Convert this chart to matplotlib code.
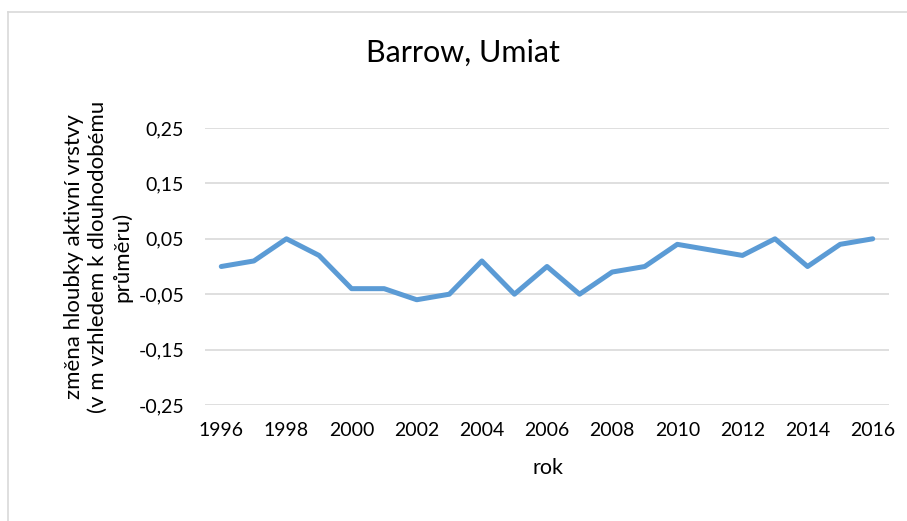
import matplotlib.pyplot as plt
from matplotlib.lines import Line2D
from matplotlib.ticker import FuncFormatter

# yearly change of active layer depth relative to long-term mean (m)
years = list(range(1996, 2017))
change = [0.00, 0.01, 0.05, 0.02, -0.04, -0.04, -0.06, -0.05, 0.01, -0.05, 0.00,
          -0.05, -0.01, 0.00, 0.04, 0.03, 0.02, 0.05, 0.00, 0.04, 0.05]
y_ticks = [-0.25, -0.15, -0.05, 0.05, 0.15, 0.25]
x_ticks = list(range(1996, 2017, 2))

plt.rcParams['font.family'] = ['Lato', 'DejaVu Sans']

fig = plt.figure(figsize=(9.07, 5.21), dpi=100)
ax = fig.add_axes([205 / 907, 1 - 405 / 521, (889 - 205) / 907, (405 - 128) / 521])

ax.plot(years, change, color='#5B9BD5', linewidth=3.6, solid_capstyle='round',
        solid_joinstyle='round', zorder=3)

ax.set_xlim(years[0] - 0.5, years[-1] + 0.5)
ax.set_ylim(-0.25, 0.25)
ax.set_yticks(y_ticks)
ax.set_xticks(x_ticks)
ax.yaxis.set_major_formatter(FuncFormatter(lambda v, _: f'{v:.2f}'.replace('.', ',')))
ax.grid(axis='y', color='#D9D9D9', linewidth=1.2)
ax.set_axisbelow(True)
for s in ax.spines.values():
    s.set_visible(False)
ax.tick_params(length=0, labelsize=14, colors='black')
ax.tick_params(axis='y', pad=15)
ax.tick_params(axis='x', pad=12)

fig.text(548 / 907, 1 - 468 / 521, 'rok', fontsize=15.5, ha='center', va='center')
fig.text(98 / 907, 1 - 257 / 521,
         'změna hloubky aktivní vrstvy\n(v m vzhledem k dlouhodobému\nprůměru)',
         fontsize=16, rotation=90, ha='center', va='center', multialignment='center',
         linespacing=1.25)
fig.text(463 / 907, 1 - 53 / 521, 'Barrow, Umiat', fontsize=22,
         ha='center', va='center')

# chart frame
fig.add_artist(Line2D([8 / 907, 1], [1 - 12 / 521] * 2, color='#D9D9D9', linewidth=1.2,
                      transform=fig.transFigure))
fig.add_artist(Line2D([8 / 907] * 2, [0, 1 - 12 / 521], color='#D9D9D9', linewidth=1.2,
                      transform=fig.transFigure))

fig.savefig('out.png', dpi=100)
